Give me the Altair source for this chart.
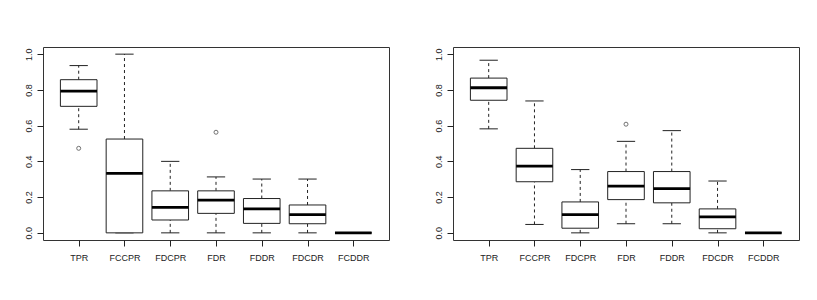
import json
import altair as alt
import pandas as pd

categories = ["TPR", "FCCPR", "FDCPR", "FDR", "FDDR", "FDCDR", "FCDDR"]

# Left panel
lo_a = [0.580, 0.000, 0.000, 0.000, 0.000, 0.000, 0.000]
q1_a = [0.708, 0.000, 0.072, 0.109, 0.053, 0.051, 0.000]
med_a = [0.793, 0.333, 0.143, 0.183, 0.134, 0.102, 0.000]
q3_a = [0.857, 0.525, 0.235, 0.235, 0.192, 0.156, 0.000]
hi_a = [0.936, 1.000, 0.400, 0.313, 0.301, 0.301, 0.000]
out_cat_a = ["TPR", "FDR"]
out_val_a = [0.473, 0.563]

# Right panel
lo_b = [0.582, 0.047, 0.000, 0.051, 0.051, 0.000, 0.000]
q1_b = [0.742, 0.286, 0.026, 0.186, 0.168, 0.023, 0.000]
med_b = [0.812, 0.373, 0.102, 0.262, 0.247, 0.089, 0.000]
q3_b = [0.866, 0.473, 0.173, 0.343, 0.343, 0.134, 0.000]
hi_b = [0.966, 0.738, 0.354, 0.512, 0.572, 0.290, 0.000]
out_cat_b = ["FDR"]
out_val_b = [0.608]

y_ticks = [0.0, 0.2, 0.4, 0.6, 0.8, 1.0]

FONT = "Liberation Sans"
INK = "#222222"


def panel(lo, q1, med, q3, hi, out_cat, out_val):
    n = len(categories)
    df = pd.DataFrame({
        "cat": categories,
        "pos": list(range(1, n + 1)),
        "lo": lo, "q1": q1, "med": med, "q3": q3, "hi": hi,
    })
    odf = pd.DataFrame({
        "cat": out_cat,
        "pos": [categories.index(c) + 1 for c in out_cat],
        "val": out_val,
    })
    xscale = alt.Scale(domain=[0.5 - 0.04 * n, n + 0.5 + 0.04 * n], nice=False, zero=False)
    yscale = alt.Scale(domain=[-0.04, 1.04], nice=False, zero=False)
    xaxis = alt.Axis(
        values=list(range(1, n + 1)),
        labelExpr=f"{json.dumps(categories)}[datum.value - 1]",
        labelAngle=0, labelPadding=7, title=None,
    )
    yaxis = alt.Axis(
        values=y_ticks, format=".1f", title=None,
        labelAngle=270, labelAlign="center", labelBaseline="bottom",
        labelPadding=4, minExtent=34, maxExtent=34,
    )

    def X(f):
        return alt.X(f, scale=xscale, axis=xaxis, title=None)

    def Y(f):
        return alt.Y(f, scale=yscale, axis=yaxis, title=None)

    base = alt.Chart(df).transform_calculate(
        xl="datum.pos - 0.4", xr="datum.pos + 0.4",
        cl="datum.pos - 0.2", cr="datum.pos + 0.2",
    )
    w_up = base.mark_rule(color=INK, strokeWidth=1, strokeDash=[3, 3]).encode(
        x=X("pos:Q"), y=Y("q3:Q"), y2="hi:Q")
    w_dn = base.mark_rule(color=INK, strokeWidth=1, strokeDash=[3, 3]).encode(
        x=X("pos:Q"), y=Y("lo:Q"), y2="q1:Q")
    cap_hi = base.mark_rule(color=INK, strokeWidth=1).encode(
        x=X("cl:Q"), x2="cr:Q", y=Y("hi:Q"))
    cap_lo = base.mark_rule(color=INK, strokeWidth=1).encode(
        x=X("cl:Q"), x2="cr:Q", y=Y("lo:Q"))
    box = base.mark_rect(fill="white", stroke=INK, strokeWidth=1).encode(
        x=X("xl:Q"), x2="xr:Q", y=Y("q1:Q"), y2="q3:Q")
    median = base.mark_rule(color="black", strokeWidth=2.8).encode(
        x=X("xl:Q"), x2="xr:Q", y=Y("med:Q"))
    outl = alt.Chart(odf).mark_point(
        shape="circle", filled=False, size=16, strokeWidth=0.9, color=INK
    ).encode(x=X("pos:Q"), y=Y("val:Q"))
    return alt.layer(w_up, w_dn, cap_hi, cap_lo, box, median, outl).properties(
        width=346, height=193)


left = panel(lo_a, q1_a, med_a, q3_a, hi_a, out_cat_a, out_val_a)
right = panel(lo_b, q1_b, med_b, q3_b, hi_b, out_cat_b, out_val_b)

chart = alt.hconcat(left, right, spacing=28).properties(
    padding={"left": 0, "top": 38, "right": 0, "bottom": 0}
).configure(
    background="white"
).configure_view(
    stroke="#333333", strokeWidth=1
).configure_axis(
    domain=False, grid=False, tickSize=6, tickColor=INK, tickWidth=1,
    labelFont=FONT, labelFontSize=9, labelColor=INK,
)

chart.save("out.html", embed_options={"renderer": "svg", "actions": False})
